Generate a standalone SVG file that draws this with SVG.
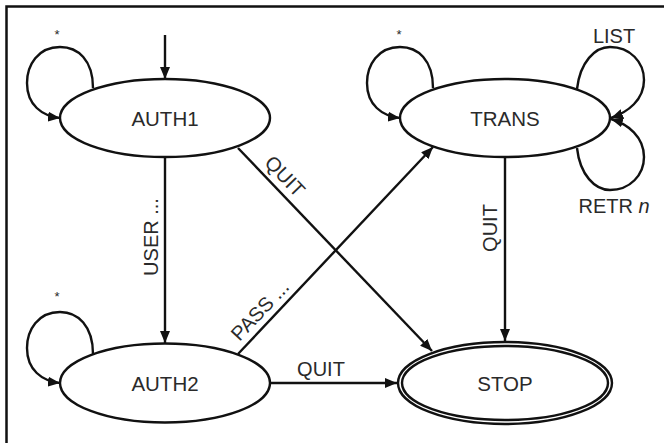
<svg xmlns="http://www.w3.org/2000/svg" width="664" height="443" viewBox="0 0 664 443">
  <style>
    .state { fill: #ffffff; stroke: #111111; stroke-width: 2.4; }
    .edge { fill: none; stroke: #111111; stroke-width: 2.4; }
    .lbl { font-family: "Liberation Sans", Arial, sans-serif; font-size: 20px; fill: #2a2a2a; }
    .name { font-family: "Liberation Sans", Arial, sans-serif; font-size: 20.5px; fill: #2a2a2a; text-anchor: middle; }
    .star { font-family: "Liberation Sans", Arial, sans-serif; font-size: 13px; fill: #2a2a2a; text-anchor: middle; }
  </style>
  <defs>
    <marker id="arrow" markerWidth="12" markerHeight="10" refX="12" refY="5" orient="auto" markerUnits="userSpaceOnUse">
      <path d="M0,0 L12,5 L0,10 z" fill="#111111"/>
    </marker>
  </defs>

  <rect width="664" height="443" fill="#ffffff"/>
  <!-- outer frame -->
  <rect x="6.5" y="6.5" width="720" height="500" fill="none" stroke="#111111" stroke-width="2.5"/>

  <!-- connectors -->
  <g id="connectors">
    <!-- start -->
    <line class="edge" x1="165" y1="35" x2="165" y2="79" marker-end="url(#arrow)"/>
    <!-- self loops -->
    <path class="edge" d="M93,88 C93,60 78,47 60,47 C38,47 27,65 27,83 C27,105 42,116 60,118" marker-end="url(#arrow)"/>
    <path class="edge" d="M93,354 C93,326 78,312 60,312 C38,312 27,330 27,348 C27,370 42,381 60,383" marker-end="url(#arrow)"/>
    <path class="edge" d="M433,88 C433,60 418,47 400,47 C378,47 367,65 367,83 C367,105 382,116 400,118" marker-end="url(#arrow)"/>
    <path class="edge" d="M577,89 C580,62 595,47 610,47 C630,47 644,62 644,80 C644,100 628,112 611,118" marker-end="url(#arrow)"/>
    <path class="edge" d="M577,148 C580,175 595,190 610,190 C630,190 644,175 644,157 C644,137 628,124 611,119" marker-end="url(#arrow)"/>
    <!-- transitions -->
    <line class="edge" x1="165" y1="157" x2="165" y2="343" marker-end="url(#arrow)"/>
    <line class="edge" x1="238" y1="148" x2="432" y2="351" marker-end="url(#arrow)"/>
    <line class="edge" x1="238" y1="354" x2="433" y2="147" marker-end="url(#arrow)"/>
    <line class="edge" x1="270" y1="383" x2="397" y2="383" marker-end="url(#arrow)"/>
    <line class="edge" x1="505" y1="157" x2="505" y2="341" marker-end="url(#arrow)"/>

    <!-- edge labels -->
    <text class="star" x="57" y="39">*</text>
    <text class="star" x="57" y="301">*</text>
    <text class="star" x="399" y="39">*</text>
    <text class="lbl" x="614" y="43" text-anchor="middle">LIST</text>
    <text class="lbl" x="614" y="213" text-anchor="middle">RETR <tspan font-style="italic">n</tspan></text>
    <text class="lbl" x="158" y="237" text-anchor="middle" transform="rotate(-90 158 237)">USER ...</text>
    <text class="lbl" x="497" y="228" text-anchor="middle" transform="rotate(-90 497 228)">QUIT</text>
    <text class="lbl" x="321" y="376" text-anchor="middle">QUIT</text>
    <text class="lbl" x="280" y="181" text-anchor="middle" transform="rotate(46 280 181)">QUIT</text>
    <text class="lbl" x="265" y="315" text-anchor="middle" transform="rotate(-46.7 265 315)">PASS ...</text>
  </g>

  <!-- states -->
  <g id="AUTH1">
    <ellipse class="state" cx="165" cy="118" rx="105" ry="39"/>
    <text class="name" x="165" y="126">AUTH1</text>
  </g>
  <g id="AUTH2">
    <ellipse class="state" cx="165" cy="383" rx="105" ry="39.5"/>
    <text class="name" x="165" y="391">AUTH2</text>
  </g>
  <g id="TRANS">
    <ellipse class="state" cx="505" cy="118" rx="105" ry="39"/>
    <text class="name" x="505" y="126">TRANS</text>
  </g>
  <g id="STOP">
    <ellipse class="state" cx="505" cy="383" rx="107" ry="41"/>
    <ellipse class="state" cx="505" cy="383" rx="103" ry="37" fill="none"/>
    <text class="name" x="505" y="391">STOP</text>
  </g>
</svg>
